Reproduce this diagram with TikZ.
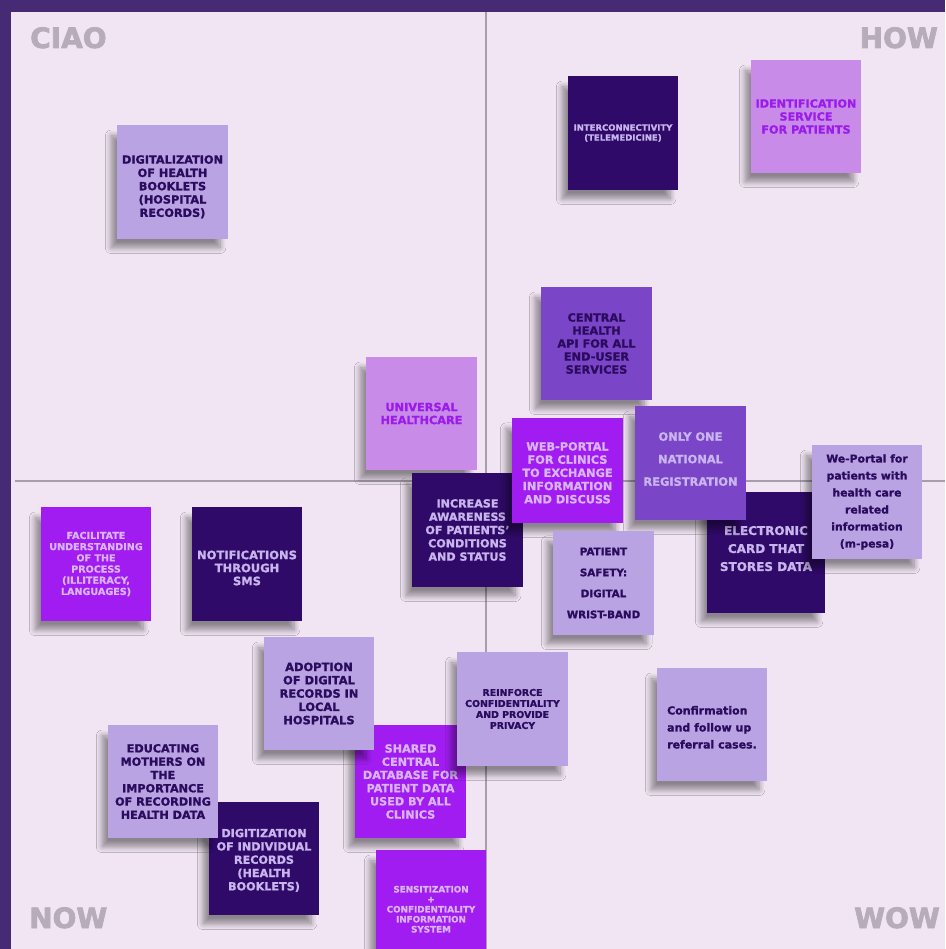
\documentclass[tikz,border=0pt]{standalone}
\usepackage{fontspec}
\setmainfont{DejaVu Sans}[BoldFeatures={FakeBold=1.3}]
\newfontfamily\heavyfont{DejaVu Sans}[BoldFeatures={FakeBold=2.5}]
\usetikzlibrary{shadows.blur}
\definecolor{frame}{HTML}{462A74}
\definecolor{paper}{HTML}{F1E5F3}
\definecolor{rulec}{HTML}{A89DAB}
\definecolor{cornerc}{HTML}{B7ACB9}
\definecolor{lav}{HTML}{B9A3E3}
\definecolor{orchid}{HTML}{C98BE8}
\definecolor{deep}{HTML}{2F0A68}
\definecolor{midp}{HTML}{7B45C8}
\definecolor{violet}{HTML}{A11CF0}
\definecolor{ink}{HTML}{2B0B5E}
\definecolor{pale}{HTML}{C8B5EE}
\definecolor{pinkish}{HTML}{D8B4F5}
\definecolor{vivid}{HTML}{9A1BEA}
\newcommand\fsz[2]{\fontsize{#1pt}{#2pt}\selectfont}
\newcommand\uprule[1]{\rule{0pt}{#1pt}}
\newcommand\downrule[1]{\rule[-#1pt]{0pt}{#1pt}}
\begin{document}
\begin{tikzpicture}[x=1pt,y=-1pt,
  note/.style={rectangle, inner sep=0pt, align=center, minimum width=110pt, minimum height=113pt,
    blur shadow={shadow xshift=-7pt, shadow yshift=-10pt, shadow blur radius=6pt, shadow blur steps=8, shadow opacity=42, shadow scale=0.98}},
  lavnote/.style={note, fill=lav, text=ink},
  orchnote/.style={note, fill=orchid, text=vivid},
  deepnote/.style={note, fill=deep, text=pale},
  midnote/.style={note, fill=midp, text=ink},
  midlight/.style={note, fill=midp, text=pale},
  vionote/.style={note, fill=violet, text=pinkish},
  cornerlbl/.style={font=\heavyfont\bfseries\fsz{28}{30}, text=cornerc, inner sep=0pt},
  ft/.style 2 args={font=\bfseries\fsz{#1}{#2}},
  quadline/.style={draw=rulec, line width=1.4pt},
]
\useasboundingbox (0,0) rectangle (945,949);
\clip (0,0) rectangle (945,949);
\fill[frame] (0,0) rectangle (945,949);
\fill[paper] (11,12) rectangle (945,949);

% quadrant lines
\coordinate (vtop) at (486,12);
\coordinate (vbot) at (486,949);
\coordinate (hleft) at (15,481);
\coordinate (hright) at (945,481);
\draw[quadline] (vtop) -- (vbot);
\draw[quadline] (hleft) -- (hright);

% corner labels
\node[cornerlbl, anchor=base west] (ciao) at (30,48) {CIAO};
\node[cornerlbl, anchor=base east] (how) at (938,48) {HOW};
\node[cornerlbl, anchor=base west] (now) at (29,928) {NOW};
\node[cornerlbl, anchor=base east] (wow) at (940,928) {WOW};

% notes
\node[lavnote, ft={11.3}{13.3}, minimum width=111pt, minimum height=114pt] (n1) at (172.5,182)
  {\uprule{18}DIGITALIZATION\\OF HEALTH\\BOOKLETS\\(HOSPITAL\\RECORDS)};
\node[orchnote, ft={11.3}{13}, minimum width=111pt] (n2) at (421.5,413.5)
  {UNIVERSAL\\HEALTHCARE};
\node[deepnote, ft={8.5}{10}, minimum height=114pt] (n3) at (623,133)
  {INTERCONNECTIVITY\\(TELEMEDICINE)};
\node[orchnote, ft={11.2}{13}] (n4) at (806,116.5)
  {IDENTIFICATION\\SERVICE\\FOR PATIENTS};
\node[midnote, ft={11.3}{13}, minimum width=111pt] (n5) at (596.5,343.5)
  {CENTRAL\\HEALTH\\API FOR ALL\\END-USER\\SERVICES};
\node[deepnote, ft={11.1}{13.3}, minimum width=111pt, minimum height=114pt] (n10) at (467.5,530)
  {INCREASE\\AWARENESS\\OF PATIENTS'\\CONDITIONS\\AND STATUS};
\node[vionote, ft={11.3}{13.2}, minimum width=111pt, minimum height=105pt] (n6) at (567.5,470.5)
  {\uprule{13}WEB-PORTAL\\FOR CLINICS\\TO EXCHANGE\\INFORMATION\\AND DISCUSS};
\node[deepnote, ft={12}{18}, minimum width=118pt, minimum height=121pt] (n9) at (766,552.5)
  {ELECTRONIC\\CARD THAT\\STORES DATA\downrule{8}};
\node[midlight, ft={11.4}{22.5}, minimum width=111pt, minimum height=114pt] (n7) at (690.5,463)
  {ONLY ONE\\NATIONAL\\REGISTRATION\downrule{8}};
\node[lavnote, ft={10.8}{17}, minimum height=114pt] (n8) at (867,502)
  {We-Portal for\\patients with\\health care\\related\\information\\(m-pesa)};
\node[lavnote, ft={10.3}{21}, minimum width=101pt, minimum height=104pt] (n11) at (603.5,583)
  {PATIENT\\SAFETY:\\DIGITAL\\WRIST-BAND};
\node[vionote, ft={9.6}{11.2}, minimum height=114pt] (n12) at (96,564)
  {FACILITATE\\UNDERSTANDING\\OF THE\\PROCESS\\(ILLITERACY,\\LANGUAGES)};
\node[deepnote, ft={11.5}{13}, minimum height=114pt] (n13) at (247,564)
  {\uprule{16.5}NOTIFICATIONS\\THROUGH\\SMS};
\node[vionote, ft={11.2}{13.2}, minimum width=111pt] (n17) at (410.5,781.5)
  {SHARED\\CENTRAL\\DATABASE FOR\\PATIENT DATA\\USED BY ALL\\CLINICS};
\node[lavnote, ft={11.4}{13.3}] (n14) at (319,693.5)
  {ADOPTION\\OF DIGITAL\\RECORDS IN\\LOCAL\\HOSPITALS};
\node[lavnote, ft={9.4}{11}, minimum width=111pt, minimum height=114pt] (n18) at (512.5,709)
  {REINFORCE\\CONFIDENTIALITY\\AND PROVIDE\\PRIVACY};
\node[deepnote, ft={11.2}{13.3}] (n16) at (264,858.5)
  {\uprule{12}DIGITIZATION\\OF INDIVIDUAL\\RECORDS\\(HEALTH\\BOOKLETS)};
\node[lavnote, ft={11.2}{13.3}] (n15) at (163,781.5)
  {EDUCATING\\MOTHERS ON\\THE\\IMPORTANCE\\OF RECORDING\\HEALTH DATA};
\node[vionote, ft={8.8}{10}] (n19) at (431,906.5)
  {\uprule{12}SENSITIZATION\\+\\CONFIDENTIALITY\\INFORMATION\\SYSTEM};
\node[lavnote, ft={11}{17}, align=left] (n20) at (712,724.5)
  {\uprule{14}Confirmation\\and follow up\\referral cases.};
\end{tikzpicture}
\end{document}
